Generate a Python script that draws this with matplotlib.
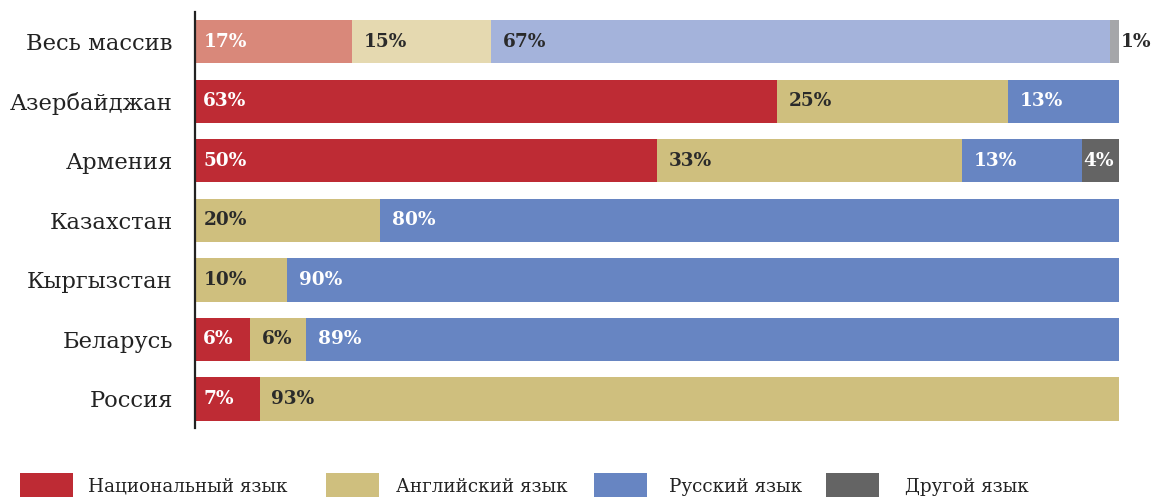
import matplotlib
matplotlib.use('Agg')
import matplotlib.pyplot as plt
from matplotlib.patches import Rectangle

#Data (shares in %, as drawn) and the printed labels
categories = ['Весь массив', 'Азербайджан', 'Армения', 'Казахстан', 'Кыргызстан', 'Беларусь', 'Россия']
national = [17, 63, 50, 0, 0, 6, 7]
english = [15, 25, 33, 20, 10, 6, 93]
russian = [67, 12, 13, 80, 90, 88, 0]
other = [1, 0, 4, 0, 0, 0, 0]
national_labels = ['17%', '63%', '50%', '', '', '6%', '7%']
english_labels = ['15%', '25%', '33%', '20%', '10%', '6%', '93%']
russian_labels = ['67%', '13%', '13%', '80%', '90%', '89%', '']
other_labels = ['1%', '', '4%', '', '', '', '']
legend_names = ['Национальный язык', 'Английский язык', 'Русский язык', 'Другой язык']

#Colours: full for countries, pale for the total row
colors = ['#BE2B34', '#CFBF7E', '#6785C2', '#646464']
pale_colors = ['#D9887A', '#E5D9B0', '#A4B3DB', '#A5A6A9']
serif = 'DejaVu Serif'

fig = plt.figure(figsize=(11.53, 4.97), dpi=100)
ax = fig.add_axes([0.1691, 0.1388, 0.8014, 0.8371])

series = [national, english, russian, other]
series_labels = [national_labels, english_labels, russian_labels, other_labels]
y = list(range(len(categories)))
left = [0] * len(categories)
for s, (vals, labs) in enumerate(zip(series, series_labels)):
    for i in y:
        c = pale_colors[s] if i == 0 else colors[s]
        if vals[i] > 0:
            ax.barh(i, vals[i], left=left[i], height=0.73, color=c, linewidth=0)
        if labs[i]:
            #text colour depends on the segment
            dark = (s == 1) or (i == 0 and s in (1, 2)) or (i == 0 and s == 3)
            tc = '#2a2a2a' if dark else 'white'
            if i == 0 and s == 3:
                #the 1% sits outside the bar
                ax.annotate(labs[i], (left[i] + vals[i], i), xytext=(1.5, 0), textcoords='offset points',
                            ha='left', va='center', fontsize=13.3, fontweight='bold', color=tc, family=serif)
            else:
                off = 1 if s == 3 else (6 if left[i] == 0 else 8.5)
                ax.annotate(labs[i], (left[i], i), xytext=(off, 0), textcoords='offset points',
                            ha='left', va='center', fontsize=13.3, fontweight='bold', color=tc, family=serif)
        left[i] += vals[i]

ax.set_xlim(0, 100)
ax.set_ylim(6.49, -0.5)
ax.set_yticks(y)
ax.set_yticklabels(categories, family=serif, fontsize=16.3, color='#222222')
ax.tick_params(axis='y', length=0, pad=16)
ax.set_xticks([])
for side in ['top', 'right', 'bottom']:
    ax.spines[side].set_visible(False)
ax.spines['left'].set_linewidth(1.6)
ax.spines['left'].set_color('#222222')

#Legend drawn by hand along the bottom edge
sq_x = [20, 326, 594, 826]
txt_x = [88, 396, 669, 905]
W, H = 1153, 497
for k in range(4):
    fig.patches.append(Rectangle((sq_x[k] / W, -0.05), 53 / W, (H - 473) / H + 0.05,
                                 transform=fig.transFigure, color=colors[k], linewidth=0))
    fig.text(txt_x[k] / W, 1 - 487 / H, legend_names[k], ha='left', va='center',
             fontsize=13.2, family=serif, color='#222222')

plt.savefig('out.png', dpi=100)
plt.close()
